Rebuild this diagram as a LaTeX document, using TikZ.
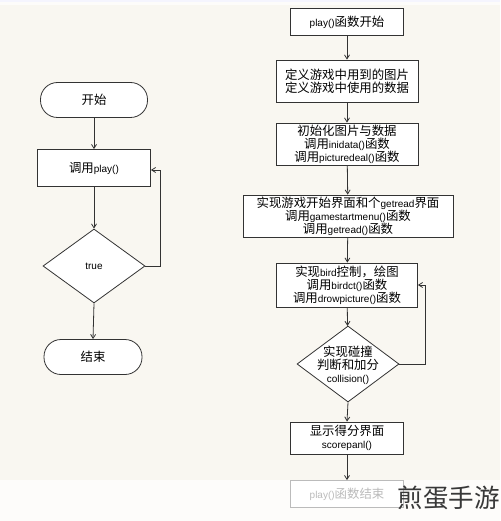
\documentclass[tikz,border=0pt]{standalone}
\usepackage{fontspec}
\setmainfont{Liberation Sans}
\newfontfamily\cjk{Noto Sans CJK SC}
\usetikzlibrary{arrows.meta,shapes.geometric}
\definecolor{bgcream}{HTML}{F9F7F1}
\definecolor{stripwhite}{HTML}{FDFCFA}
\definecolor{lineclr}{HTML}{333333}
\definecolor{fadeclr}{HTML}{BBBBBB}
\newcommand{\en}[1]{{\rmfamily\fontsize{10}{13}\selectfont #1}}
\tikzset{
  process/.style={draw=lineclr, fill=white, line width=0.8pt, rectangle, align=center,
    font=\cjk\fontsize{12.4}{13}\selectfont, inner sep=0pt},
  terminal/.style={process, rounded corners=17pt, minimum width=107pt, minimum height=35pt},
  decision/.style={draw=lineclr, fill=white, line width=0.8pt, diamond, inner sep=0pt},
  label/.style={align=center, font=\cjk\fontsize{12.4}{13}\selectfont, inner sep=0pt},
  flow/.style={draw=lineclr, line width=0.8pt, -{Straight Barb[length=4pt,width=5pt]}}
}
\begin{document}
\begin{tikzpicture}[x=1pt,y=-1pt]
\fill[bgcream] (0,0) rectangle (500,521);
\fill[stripwhite] (0,480) rectangle (500,521);
\fill[stripwhite] (0,2) rectangle (500,5);
\fill[black!8!blue!4] (0,0) rectangle (500,2);
\useasboundingbox (0,0) rectangle (500,521);

% main
\node[terminal] (start) at (94,100) {开始};
\node[process, minimum width=113pt, minimum height=37pt] (call) at (94,168) {调用\en{play()}};
\node[decision, minimum width=102pt, minimum height=74pt] (loop) at (94,266) {};
\node[label] (looptext) at (loop) {\en{true}};
\node[terminal, minimum width=98pt] (stop) at (93,357) {结束};
\draw[flow] (start) -- (call);
\draw[flow] (call) -- (loop);
\draw[flow] (loop.south) -- (stop.north);
\draw[flow] (loop.east) -- (160,266) |- ([yshift=-2pt]call.east);

% play()
\node[process, minimum width=113pt, minimum height=27pt] (pstart) at (347,22) {\en{play()}函数开始};
\node[process, minimum width=142pt, minimum height=42pt] (define) at (347,81) {定义游戏中用到的图片\\定义游戏中使用的数据};
\node[process, minimum width=142pt, minimum height=42pt] (init) at (347,144) {初始化图片与数据\\调用\en{inidata()}函数\\调用\en{picturedeal()}函数};
\node[process, minimum width=210pt, minimum height=42pt] (menu) at (348,216) {实现游戏开始界面和个\en{getread}界面\\调用\en{gamestartmenu()}函数\\调用\en{getread()}函数};
\node[process, minimum width=141pt, minimum height=44pt] (bird) at (347,285) {实现\en{bird}控制，绘图\\调用\en{birdct()}函数\\调用\en{drowpicture()}函数};
\node[decision, minimum width=102pt, minimum height=76pt] (hit) at (348,364) {};
\node[label] (hittext) at (348,365) {实现碰撞\\判断和加分\\\en{collision()}};
\node[process, minimum width=113pt, minimum height=32pt] (score) at (347,438) {显示得分界面\\\en{scorepanl()}};
\node[process, draw=fadeclr, text=fadeclr, minimum width=113pt, minimum height=27pt] (pend) at (347,494) {\en{play()}函数结束};
\draw[flow] (pstart) -- (define);
\draw[flow] (define) -- (init);
\draw[flow] (init) -- (menu);
\draw[flow] (menu) -- (bird);
\draw[flow] (bird) -- (hit);
\draw[flow] (hit.south) -- (score.north);
\draw[flow] (score) -- (pend);
\draw[flow] (hit.east) -- (425,364) |- (bird.east);

\node[font=\cjk\fontsize{25.5}{26}\selectfont, text=black!78, anchor=east, inner sep=0pt] (mark) at (500,498) {煎蛋手游};
\end{tikzpicture}
\end{document}
